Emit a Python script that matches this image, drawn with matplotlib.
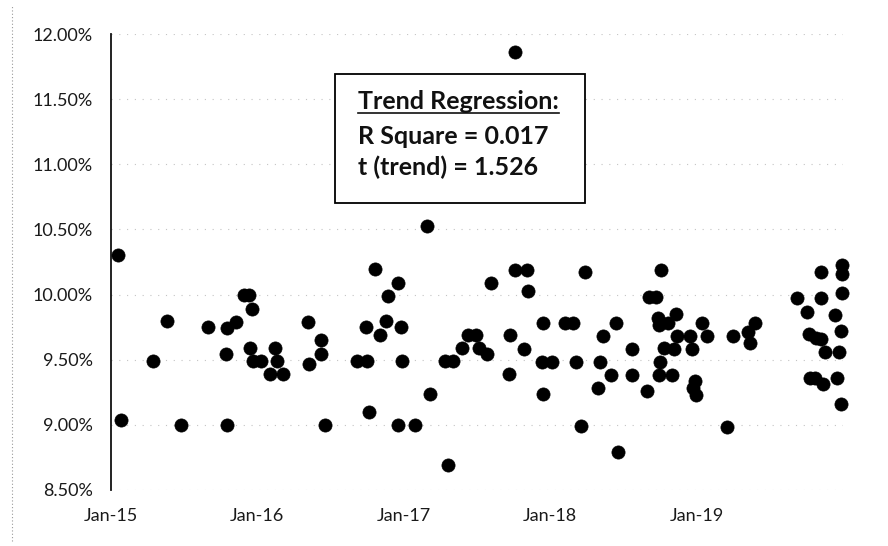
import pandas as pd
import numpy as np
import matplotlib
matplotlib.use("Agg")
import matplotlib.pyplot as plt
import matplotlib.dates as mdates
from matplotlib.patches import Rectangle
from matplotlib.lines import Line2D

# Decision dates and authorized values (%)
dates = [
    "2015-01-19", "2015-01-25", "2015-04-16", "2015-05-20", "2015-06-24",
    "2015-08-31", "2015-10-15", "2015-10-17", "2015-10-18", "2015-11-08",
    "2015-11-28", "2015-12-12", "2015-12-14", "2015-12-20", "2015-12-22",
    "2016-01-10", "2016-02-01", "2016-02-15", "2016-02-19", "2016-03-06",
    "2016-05-07", "2016-05-10", "2016-06-08", "2016-06-08", "2016-06-19",
    "2016-09-07", "2016-09-28", "2016-10-02", "2016-10-05", "2016-10-21",
    "2016-11-02", "2016-11-17", "2016-11-23", "2016-12-16", "2016-12-18",
    "2016-12-25", "2016-12-28",
    "2017-01-29", "2017-02-27", "2017-03-07", "2017-04-14", "2017-04-21",
    "2017-05-04", "2017-05-27", "2017-06-11", "2017-06-30", "2017-07-08",
    "2017-07-27", "2017-08-06", "2017-09-19", "2017-09-23", "2017-10-04",
    "2017-10-05", "2017-10-28", "2017-11-03", "2017-11-06", "2017-12-11",
    "2017-12-13", "2017-12-15",
    "2018-01-05", "2018-02-07", "2018-02-28", "2018-03-06", "2018-03-20",
    "2018-03-30", "2018-05-01", "2018-05-05", "2018-05-12", "2018-06-03",
    "2018-06-13", "2018-06-20", "2018-07-25", "2018-07-25", "2018-08-30",
    "2018-09-05", "2018-09-22", "2018-09-28", "2018-09-30", "2018-09-30",
    "2018-10-02", "2018-10-04", "2018-10-12", "2018-10-23", "2018-11-02",
    "2018-11-06", "2018-11-10", "2018-11-14", "2018-12-17", "2018-12-20",
    "2018-12-24", "2018-12-28", "2018-12-30",
    "2019-01-14", "2019-01-28", "2019-03-17", "2019-04-01", "2019-05-10",
    "2019-05-14", "2019-05-28", "2019-09-10", "2019-10-04", "2019-10-09",
    "2019-10-11", "2019-10-23", "2019-10-27", "2019-11-07", "2019-11-07",
    "2019-11-09", "2019-11-13", "2019-11-19", "2019-12-12", "2019-12-18",
    "2019-12-22", "2019-12-27", "2019-12-29", "2019-12-29", "2019-12-29",
    "2019-12-28",
]
values = [
    10.30, 9.04, 9.49, 9.80, 9.00,
    9.75, 9.54, 9.74, 9.00, 9.79,
    10.00, 10.00, 9.59, 9.89, 9.49,
    9.49, 9.39, 9.59, 9.49, 9.39,
    9.79, 9.47, 9.65, 9.54, 9.00,
    9.49, 9.75, 9.49, 9.10, 10.20,
    9.69, 9.80, 9.99, 10.09, 9.00,
    9.75, 9.49,
    9.00, 10.53, 9.24, 9.49, 8.69,
    9.49, 9.59, 9.69, 9.69, 9.59,
    9.54, 10.09, 9.39, 9.69, 10.19,
    11.86, 9.58, 10.19, 10.03, 9.48,
    9.78, 9.24,
    9.48, 9.78, 9.78, 9.48, 8.99,
    10.17, 9.28, 9.48, 9.68, 9.38,
    9.78, 8.79, 9.58, 9.38, 9.26,
    9.98, 9.98, 9.82, 9.77, 9.38,
    9.48, 10.19, 9.59, 9.78, 9.38,
    9.58, 9.85, 9.68, 9.68, 9.58,
    9.28, 9.34, 9.23,
    9.78, 9.68, 8.98, 9.68, 9.71,
    9.63, 9.78, 9.97, 9.87, 9.70,
    9.36, 9.36, 9.67, 9.97, 10.17,
    9.66, 9.31, 9.56, 9.84, 9.36,
    9.56, 9.16, 10.23, 10.16, 10.01,
    9.72,
]

box_lines = ["Trend Regression:", "R Square = 0.017", "t (trend) = 1.526"]

x = pd.to_datetime(dates)
y = np.array(values) / 100.0

plt.rcParams["font.family"] = ["Lato", "DejaVu Sans"]

fig = plt.figure(figsize=(8.88, 5.46), dpi=100)
ax = fig.add_axes([0.125, 0.1026, 0.824, 0.8351])

ax.scatter(x, y, s=90, color="black", edgecolors="black", linewidths=0.5, zorder=3, clip_on=False)

ax.set_xlim(pd.Timestamp("2015-01-01"), pd.Timestamp("2020-01-01"))
ax.set_ylim(0.085, 0.12)
ax.set_yticks(np.arange(0.085, 0.12001, 0.005))
ax.yaxis.set_major_formatter(matplotlib.ticker.FuncFormatter(lambda v, p: f"{v*100:.2f}%"))
ax.set_xticks(pd.to_datetime(["2015-01-01", "2016-01-01", "2017-01-01", "2018-01-01", "2019-01-01"]))
ax.xaxis.set_major_formatter(mdates.DateFormatter("%b-%y"))

ax.grid(axis="y", color="#c4c4c4", linestyle=(0, (1, 6)), linewidth=0.8)
ax.set_axisbelow(True)
for s in ["top", "right", "bottom"]:
    ax.spines[s].set_visible(False)
ax.spines["left"].set_color("#111111")
ax.spines["left"].set_linewidth(1.3)
ax.tick_params(axis="y", length=0, pad=13, labelsize=13, labelcolor="#1a1a1a")
ax.tick_params(axis="x", length=0, pad=13, labelsize=13, labelcolor="#1a1a1a")

# regression summary box
ax.add_patch(Rectangle((0.306, 0.629), 0.3415, 0.283, transform=ax.transAxes,
                       facecolor="white", edgecolor="black", linewidth=1.3, zorder=4))
ys = [0.851, 0.776, 0.708]
texts = []
for line, yy in zip(box_lines, ys):
    t = ax.text(0.3374, yy, line, transform=ax.transAxes, fontsize=18, fontweight="bold",
                color="#111111", va="center", ha="left", zorder=5)
    texts.append(t)

# underline the heading
fig.canvas.draw()
bb = texts[0].get_window_extent(fig.canvas.get_renderer())
inv = ax.transAxes.inverted()
(x0, y0), (x1, y1) = inv.transform([(bb.x0, bb.y0), (bb.x1, bb.y1)])
ax.add_line(Line2D([x0, x1], [y0 + 0.002, y0 + 0.002], transform=ax.transAxes,
                   color="#111111", linewidth=1.2, zorder=5))

# faint chart-area border on the left
fig.add_artist(Line2D([12 / 888, 12 / 888], [0.01, 0.99], transform=fig.transFigure,
                      color="#999999", linestyle=(0, (1, 2)), linewidth=0.8))

fig.savefig("out.png", dpi=100)
